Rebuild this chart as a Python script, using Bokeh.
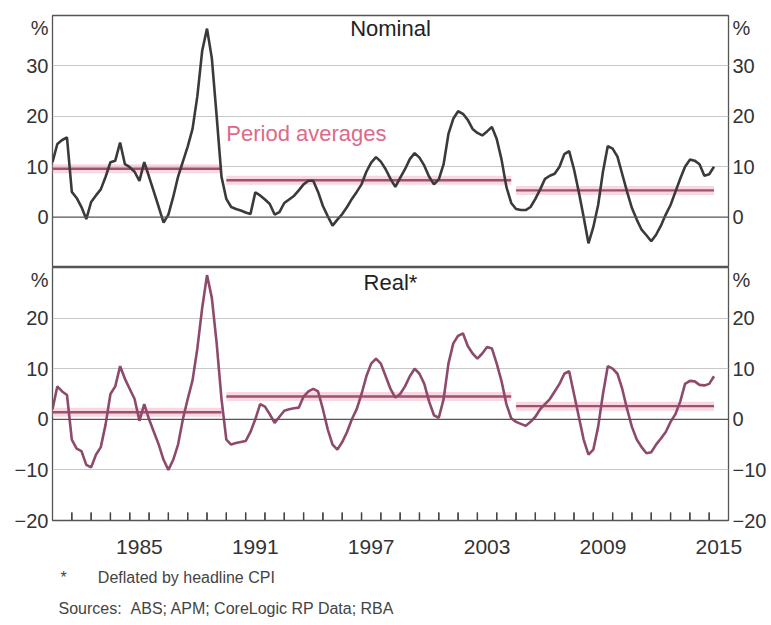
from bokeh.plotting import figure
from bokeh.models import Range1d, LinearAxis, FixedTicker, Span, Label, Title, ColumnDataSource
from bokeh.layouts import column
from bokeh.embed import file_html
from bokeh.resources import INLINE

# ---- data (year-ended growth, %, quarterly from 1981 Q1) ----
nominal = [
    10.9, 14.5, 15.3, 15.8,
    5.0, 3.8, 2.0, -0.4,
    3.0, 4.3, 5.5, 8.0,
    10.9, 11.2, 14.8, 10.5,
    9.9, 9.0, 7.2, 10.9,
    8.0, 5.0, 2.0, -1.1,
    0.5, 4.0, 8.0, 11.0,
    14.0, 17.5, 24.0, 33.0,
    37.4, 31.5, 20.0, 8.0,
    3.6, 2.0, 1.6, 1.3,
    0.9, 0.6, 4.9, 4.3,
    3.5, 2.6, 0.5, 1.0,
    2.8, 3.5, 4.2, 5.3,
    6.5, 7.2, 7.2, 5.0,
    2.2, 0.2, -1.7, -0.5,
    0.6, 2.0, 3.6, 5.0,
    6.5, 9.0, 10.8, 11.9,
    11.0, 9.5, 7.6, 6.0,
    7.8, 9.5, 11.5, 12.7,
    11.8, 10.2, 8.0, 6.5,
    7.5, 10.5, 16.5, 19.5,
    21.0, 20.5, 19.3, 17.5,
    16.7, 16.2, 17.0, 17.9,
    15.5, 11.4, 6.0, 2.8,
    1.6, 1.4, 1.4, 2.0,
    3.6, 5.5, 7.6, 8.2,
    8.6, 10.0, 12.5, 13.1,
    9.5, 5.0, 0.0, -5.2,
    -2.0, 2.4, 9.0, 14.1,
    13.6, 12.0, 8.5, 5.0,
    1.8, -0.5, -2.5, -3.6,
    -4.8, -3.5, -1.7, 0.5,
    2.4, 5.0, 7.6, 10.0,
    11.4, 11.2, 10.5, 8.2,
    8.5, 10.0,
]

real = [
    2.0, 6.5, 5.5, 4.8,
    -4.0, -5.8, -6.3, -9.0,
    -9.5, -7.0, -5.5, -1.0,
    5.0, 6.5, 10.5, 8.0,
    6.0, 4.0, -0.3, 3.0,
    0.0, -2.5, -5.0, -8.0,
    -10.0, -8.0, -5.0, 0.0,
    4.0, 7.7, 14.0, 22.0,
    28.5, 24.0, 15.0, 4.0,
    -4.0, -5.0, -4.7, -4.5,
    -4.3, -2.5, 0.0, 3.0,
    2.5, 1.0, -0.7, 0.5,
    1.7, 2.0, 2.2, 2.3,
    4.5, 5.5, 6.0, 5.5,
    2.0, -2.0, -5.0, -6.0,
    -4.5, -2.5, 0.0, 2.0,
    5.0, 8.5, 11.0, 12.0,
    11.0, 8.5, 6.0, 4.3,
    5.0, 6.5, 8.5, 10.0,
    9.0, 7.0, 3.5, 0.8,
    0.3, 4.0, 11.0, 15.0,
    16.5, 17.0, 14.5, 13.0,
    12.0, 13.0, 14.3, 14.0,
    11.0, 7.5, 3.0, 0.2,
    -0.5, -0.9, -1.3, -0.5,
    0.5, 2.0, 3.0, 4.0,
    5.5, 7.0, 9.0, 9.5,
    5.0, 0.5, -4.0, -7.0,
    -6.0, -1.5, 5.0, 10.5,
    10.0, 9.0, 6.0, 2.0,
    -1.5, -4.0, -5.5, -6.7,
    -6.5, -5.0, -3.8, -2.5,
    -0.5, 1.0, 3.5, 7.0,
    7.6, 7.5, 6.8, 6.7,
    7.0, 8.5,
]

dates = [1981 + q / 4 for q in range(len(nominal))]  # quarter positions

period_start = [1981.0, 1990.0, 2005.0]
period_end = [1989.75, 2004.75, 2015.25]
nominal_avg = [9.6, 7.3, 5.3]
real_avg = [1.4, 4.5, 2.6]

year_labels = [1985, 1991, 1997, 2003, 2009, 2015]
year_ticks = [float(y) for y in range(1982, 2016)]

nominal_yticks = [0, 10, 20, 30]
real_yticks = [-20, -10, 0, 10, 20]

# ---- styles ----
FONT = "Liberation Sans"
TICK_SIZE = "20px"
TEXT_COL = "#333333"
BORDER_COL = "#555555"
GRID_COL = "#c8c8c8"
NOM_COL = "#3a3a3a"
REAL_COL = "#8e4a6a"
AVG_COL = "#a2506f"
HALO_COL = "#f4c6d3"
NB = "\u00a0"
TICK_LEN = 1.6  # length of year tick marks, in % units of the lower panel

x_range = Range1d(1981, 2016)


def style_yaxis(ax, ticks, pct_pos):
    ax.ticker = FixedTicker(ticks=ticks + [pct_pos])
    ax.major_label_overrides = {pct_pos: "%"}
    ax.axis_line_color = None
    ax.major_tick_in = 0
    ax.major_tick_out = 0
    ax.minor_tick_in = 0
    ax.minor_tick_out = 0
    ax.major_label_standoff = 4
    ax.major_label_text_font = FONT
    ax.major_label_text_font_size = TICK_SIZE
    ax.major_label_text_color = TEXT_COL


def make_panel(height, y0, y1, ticks, grid_ticks, pct_pos, top, bottom, below_axis):
    p = figure(width=769, height=height, x_range=x_range, y_range=Range1d(y0, y1),
               output_backend="svg", toolbar_location=None,
               x_axis_location="below" if below_axis else None,
               y_axis_location="left",
               min_border_left=52, min_border_right=41,
               min_border_top=top, min_border_bottom=bottom)
    p.background_fill_color = "white"
    p.border_fill_color = "white"
    p.outline_line_color = BORDER_COL
    p.outline_line_width = 1.3
    style_yaxis(p.yaxis[0], ticks, pct_pos)
    right = LinearAxis()
    style_yaxis(right, ticks, pct_pos)
    p.add_layout(right, "right")
    p.xgrid.visible = False
    p.ygrid.ticker = FixedTicker(ticks=grid_ticks)
    p.ygrid.grid_line_color = GRID_COL
    p.ygrid.grid_line_width = 1.2
    p.add_layout(Span(location=0, dimension="width", line_color=BORDER_COL, line_width=1.3))
    return p


avg_nom = ColumnDataSource(dict(x0=period_start, x1=period_end, y=nominal_avg))
avg_real = ColumnDataSource(dict(x0=period_start, x1=period_end, y=real_avg))
series = ColumnDataSource(dict(x=dates, nominal=nominal, real=real))

# ---- top panel: nominal ----
p1 = make_panel(267, -10, 40, nominal_yticks, [10, 20, 30], 37.6, 15, 0, False)
p1.segment(x0="x0", y0="y", x1="x1", y1="y", source=avg_nom, line_color=HALO_COL,
           line_width=9, line_alpha=0.7)
p1.segment(x0="x0", y0="y", x1="x1", y1="y", source=avg_nom, line_color=AVG_COL,
           line_width=2.4)
p1.line("x", "nominal", source=series, line_color=NOM_COL, line_width=2.6)
p1.add_layout(Label(x=1998.5, y=37.4, text="Nominal", text_align="center",
                    text_baseline="middle", text_font=FONT, text_font_size="22px",
                    text_color="#222222"))
p1.add_layout(Label(x=1990.0, y=16.5, text="Period averages", text_align="left",
                    text_baseline="middle", text_font=FONT, text_font_size="22px",
                    text_color="#dc6a88"))

# ---- bottom panel: real ----
p2 = make_panel(353, -20, 30, real_yticks, [-10, 10, 20], 27.6, 0, 100, True)
p2.segment(x0="x0", y0="y", x1="x1", y1="y", source=avg_real, line_color=HALO_COL,
           line_width=9, line_alpha=0.7)
p2.segment(x0="x0", y0="y", x1="x1", y1="y", source=avg_real, line_color=AVG_COL,
           line_width=2.4)
p2.line("x", "real", source=series, line_color=REAL_COL, line_width=2.6)
p2.add_layout(Label(x=1998.5, y=27.0, text="Real*", text_align="center",
                    text_baseline="middle", text_font=FONT, text_font_size="22px",
                    text_color="#222222"))

# year-boundary tick marks rising from the bottom edge of the lower panel
y_lo = float(p2.y_range.start)
tick_src = ColumnDataSource(dict(xs=year_ticks, ys0=[y_lo] * len(year_ticks),
                                 ys1=[y_lo + TICK_LEN] * len(year_ticks)))
p2.vbar(x="xs", bottom="ys0", top="ys1", width=0.07, source=tick_src,
        fill_color="#444444", line_color=None)
p2.segment(x0="xs", y0="ys0", x1="xs", y1="ys1", source=tick_src,
           line_color="#444444", line_width=1.2)

# year labels centred on each labelled year
xa = p2.xaxis[0]
xa.ticker = FixedTicker(ticks=[y + 0.5 for y in year_labels])
xa.major_label_overrides = {y + 0.5: str(y) for y in year_labels}
xa.axis_line_color = None
xa.major_tick_in = 0
xa.major_tick_out = 0
xa.minor_tick_in = 0
xa.minor_tick_out = 0
xa.major_label_standoff = 19
xa.major_label_text_font = FONT
xa.major_label_text_font_size = "21px"
xa.major_label_text_color = TEXT_COL

# ---- footnotes ----
note1 = Title(text="*" + NB * 7 + "Deflated by headline CPI", align="left", offset=8,
              standoff=21, text_font=FONT, text_font_size="16px",
              text_font_style="normal", text_color="#444444")
note2 = Title(text="Sources:" + NB * 2 + "ABS; APM; CoreLogic RP Data; RBA", align="left",
              offset=6, standoff=2, text_font=FONT, text_font_size="16px",
              text_font_style="normal", text_color="#444444")
p2.add_layout(note1, "below")
p2.add_layout(note2, "below")

layout = column(p1, p2, spacing=0)
open("out.html", "w").write(file_html(layout, INLINE))
